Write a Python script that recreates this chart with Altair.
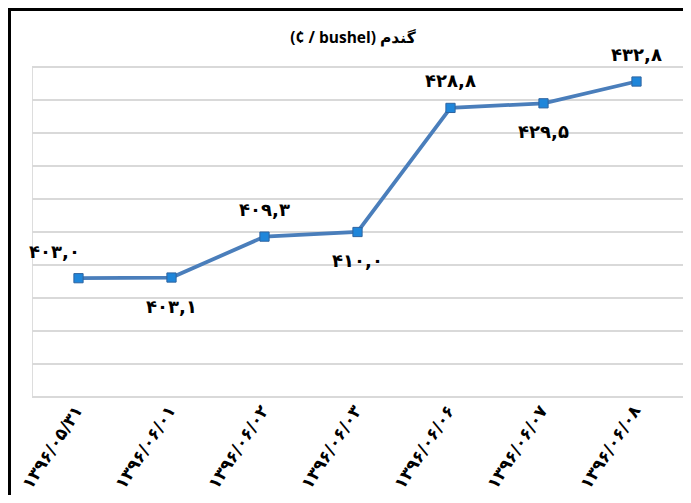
import altair as alt
import pandas as pd

dates = ["۱۳۹۶/۰۵/۳۱", "۱۳۹۶/۰۶/۰۱", "۱۳۹۶/۰۶/۰۲", "۱۳۹۶/۰۶/۰۳",
         "۱۳۹۶/۰۶/۰۶", "۱۳۹۶/۰۶/۰۷", "۱۳۹۶/۰۶/۰۸"]
values = [403.0, 403.1, 409.3, 410.0, 428.8, 429.5, 432.8]
y_ticks = [385, 390, 395, 400, 405, 410, 415, 420, 425, 430, 435]
title_text = "(¢ / bushel) گندم"

fa = str.maketrans("0123456789.", "۰۱۲۳۴۵۶۷۸۹,")
labels = [f"{v:.1f}".translate(fa) for v in values]

df = pd.DataFrame({"date": dates, "value": values, "label": labels})
grid_df = pd.DataFrame({"tick": y_ticks})

FONT = "Open Sans, DejaVu Sans"

yscale = alt.Scale(domain=[385, 435], nice=False, zero=False)

x = alt.X("date:N", sort=dates, title=None,
          scale=alt.Scale(type="point", padding=0.5),
          axis=alt.Axis(labelAngle=-57, labelAlign="right", labelBaseline="middle",
                        labelFontSize=17, labelFontWeight="bold", labelColor="#000000",
                        labelFont="DejaVu Sans", labelPadding=10,
                        ticks=False, domain=False, grid=False))
y = alt.Y("value:Q", title=None, scale=yscale, axis=None)

grid = alt.Chart(grid_df).mark_rule(color="#D9D9D9", strokeWidth=2).encode(
    y=alt.Y("tick:Q", scale=yscale, axis=None),
    x=alt.value(0), x2=alt.value(651))

base = alt.Chart(df)

line = base.mark_line(color="#4A7EBB", strokeWidth=3.8).encode(x=x, y=y)
pts = base.mark_square(size=85, color="#1F86DA", stroke="#2F64A0",
                       strokeWidth=1, opacity=1).encode(x="date:N", y="value:Q")

lab = base.transform_window(idx="row_number()")
txt = dict(fontSize=18, fontWeight="bold", font="DejaVu Sans", color="#000000",
           baseline="middle")
enc = dict(x="date:N", y="value:Q", text="label:N")
first = lab.transform_filter("datum.idx == 1").mark_text(dx=-24, dy=-25, **txt).encode(**enc)
above = lab.transform_filter("datum.idx % 2 == 1 && datum.idx > 1").mark_text(
    dy=-26, **txt).encode(**enc)
below = lab.transform_filter("datum.idx % 2 == 0").mark_text(
    dy=30, **txt).encode(**enc)

title = alt.Chart(df).transform_filter("datum.value == 403.0").mark_text(
    fontSize=15.5, fontWeight="bold", font=FONT, color="#000000", baseline="middle"
).encode(x=alt.value(321), y=alt.value(-29), text=alt.value(title_text))

top_border = alt.Chart(df).mark_rule(color="#000000", strokeWidth=3).encode(
    x=alt.value(-24), x2=alt.value(660), y=alt.value(-57.5))
left_border = alt.Chart(df).mark_rule(color="#000000", strokeWidth=3).encode(
    x=alt.value(-22.5), y=alt.value(-59), y2=alt.value(440))

chart = alt.layer(grid, line, pts, first, above, below, title,
                  top_border, left_border).properties(
    width=651, height=330,
    autosize=alt.AutoSizeParams(type="none"),
    padding={"left": 24, "top": 59, "right": 0, "bottom": 98},
).configure_view(stroke=None).configure(background="#FFFFFF")

chart.save("out.html", embed_options={"renderer": "svg", "actions": False})
